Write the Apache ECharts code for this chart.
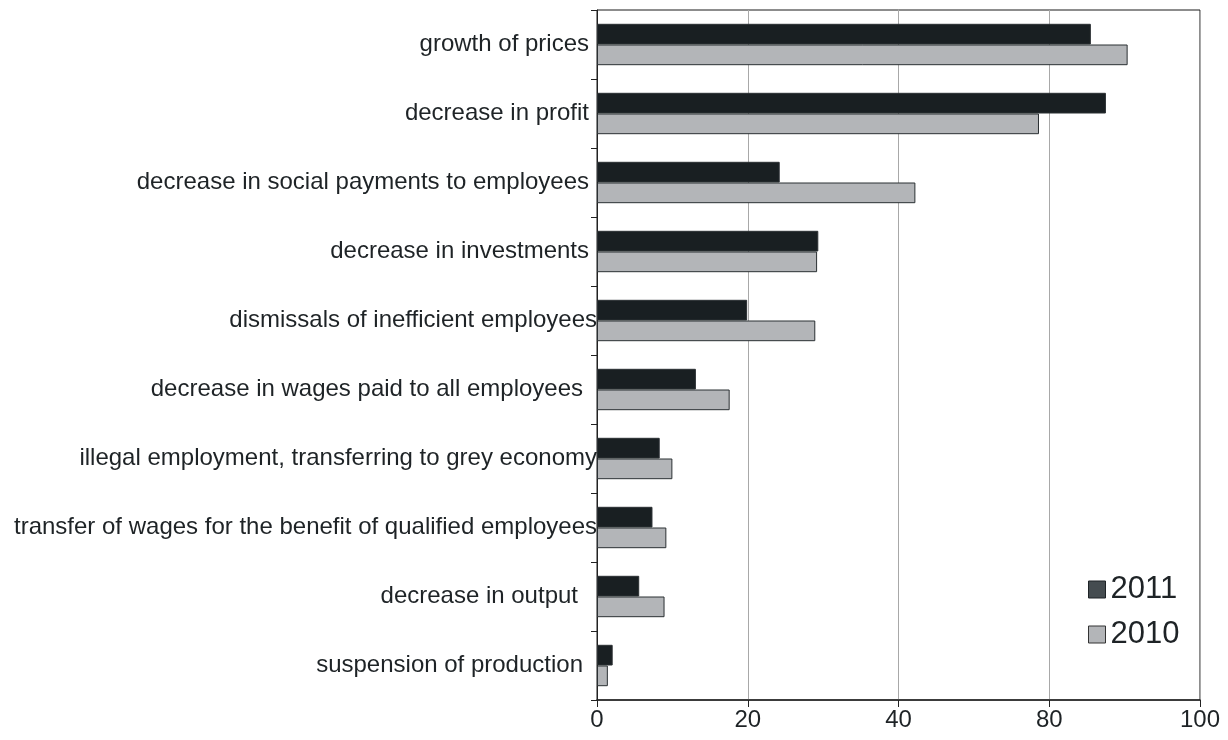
<!DOCTYPE html>
<html>
<head>
<meta charset="utf-8">
<script src="https://cdn.jsdelivr.net/npm/echarts@6/dist/echarts.min.js"></script>
<style>
  html, body { margin: 0; padding: 0; background: #fff; }
  #chart { width: 1228px; height: 740px; }
</style>
</head>
<body>
<div id="chart"></div>
<script>
// Categories, top to bottom
const categories = [
  'growth of prices',
  'decrease in profit',
  'decrease in social payments to employees',
  'decrease in investments',
  'dismissals of inefficient employees',
  'decrease in wages paid to all employees',
  'illegal employment, transferring to grey economy',
  'transfer of wages for the benefit of qualified employees',
  'decrease in output',
  'suspension of production'
];

// Share of respondents, in axis units
const values2011 = [81.9, 84.4, 30.3, 36.7, 24.9, 16.4, 10.4, 9.2, 7.0, 2.6];
const values2010 = [88.0, 73.3, 52.8, 36.5, 36.2, 22.0, 12.5, 11.5, 11.2, 1.8];

// Labels printed at the value-axis ticks
const tickLabels = ['0', '20', '40', '80', '100'];

// Extra right padding per category label (keeps the original label offsets)
const labelPadRight = [8, 8, 8, 8, 0, 14, 0, 0, 19, 14];

const FONT = '"Liberation Sans Narrow", "Liberation Sans", Arial, sans-serif';

const chart = echarts.init(document.getElementById('chart'));

chart.setOption({
  animation: false,
  grid: {
    left: 597, right: 28, top: 10, bottom: 40,
    show: true, borderColor: '#1a1a1a', borderWidth: 1,
    containLabel: false,
    outerBoundsMode: 'none'
  },
  legend: {
    orient: 'vertical',
    left: 1083, top: 569,
    icon: 'rect',
    itemWidth: 17, itemHeight: 17, itemGap: 14,
    textStyle: { fontFamily: FONT, fontSize: 31, color: '#1e2326' },
    data: [
      { name: '2011', itemStyle: { color: '#454c50', borderColor: '#1e2326', borderWidth: 1 } },
      { name: '2010', itemStyle: { color: '#b3b5b8', borderColor: '#333', borderWidth: 1 } }
    ]
  },
  xAxis: {
    type: 'value',
    min: 0, max: 100, interval: 25,
    axisLine: { show: true, lineStyle: { color: '#222', width: 1.5 } },
    axisTick: { show: true, length: 7, lineStyle: { color: '#222' } },
    splitLine: { show: true, lineStyle: { color: '#a8a8a8', width: 1 } },
    axisLabel: {
      fontFamily: FONT, fontSize: 24, color: '#1e2326', margin: 8,
      formatter: function (v) { return tickLabels[Math.round(v / 25)]; }
    }
  },
  yAxis: {
    type: 'category',
    inverse: true,
    data: categories.map(function (c, i) {
      return { value: c, textStyle: { padding: [0, labelPadRight[i], 0, 0] } };
    }),
    axisLine: { show: true, lineStyle: { color: '#222', width: 1 } },
    axisTick: { show: true, length: 6, lineStyle: { color: '#222' } },
    axisLabel: {
      fontFamily: FONT, fontSize: 24, color: '#1e2326', margin: 0
    }
  },
  series: [
    {
      name: '2011', type: 'bar', data: values2011,
      barGap: '0%', barCategoryGap: '40%',
      itemStyle: { color: '#191f22', borderColor: '#2b3033', borderWidth: 1 }
    },
    {
      name: '2010', type: 'bar', data: values2010,
      barGap: '0%', barCategoryGap: '40%',
      itemStyle: { color: '#b3b5b8', borderColor: '#2b3033', borderWidth: 1 }
    }
  ]
});
</script>
</body>
</html>
